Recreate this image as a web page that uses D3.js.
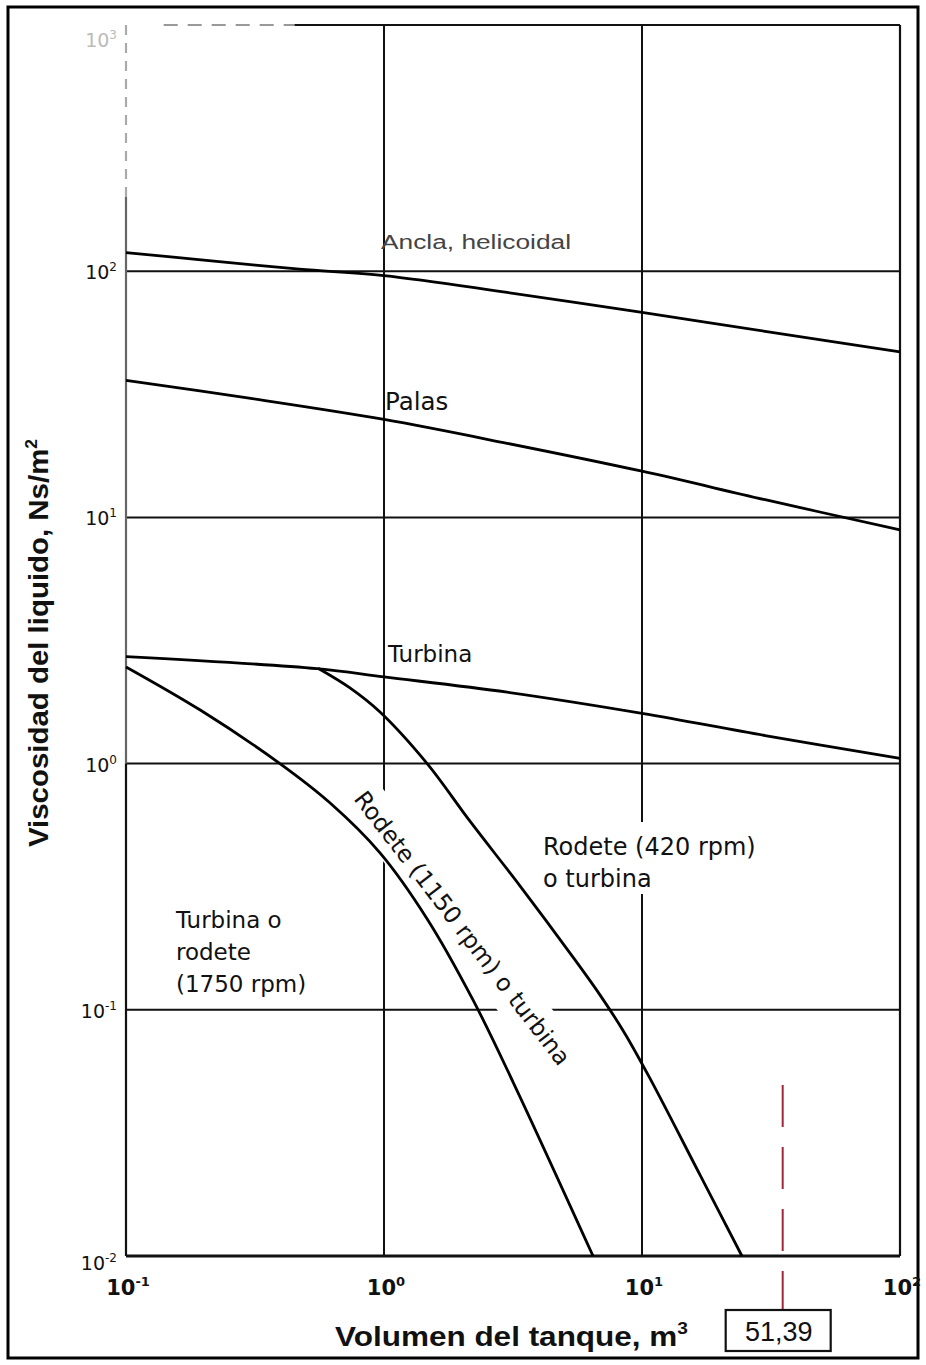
<!DOCTYPE html>
<html>
<head>
<meta charset="utf-8">
<script src="https://cdnjs.cloudflare.com/ajax/libs/d3/7.8.5/d3.min.js"></script>
<style>
  body { margin: 0; background: #fff; }
  svg { display: block; font-family: "Liberation Sans", Arial, sans-serif; }
</style>
</head>
<body>
<div id="chart"></div>
<script>
// axis ticks (powers of ten) and their exponents
var volumeTicks = [0.1, 1, 10, 100];
var volumeExp = ["-1", "0", "1", "2"];
var viscTicks = [0.01, 0.1, 1, 10, 100, 1000];
var viscExp = ["-2", "-1", "0", "1", "2", "3"];

// curves: [volume m3, viscosity Ns/m2]
var ancla = [[0.1, 119], [0.2, 111], [0.47, 102], [1, 96], [3, 82], [10, 68], [30, 57], [100, 47]];
var palas = [[0.1, 36], [0.3, 30.5], [1, 25], [3, 20], [10, 15.4], [30, 11.8], [100, 8.9]];
var turbina = [[0.1, 2.72], [0.55, 2.43], [1, 2.25], [3, 1.95], [10, 1.6], [30, 1.3], [100, 1.05]];
var rodete1750 = [[0.1, 2.47], [0.194, 1.65], [0.395, 1.0], [0.62, 0.69], [0.965, 0.434],
  [1.47, 0.234], [2.21, 0.11], [3.16, 0.051], [6.46, 0.01]];
var rodete420 = [[0.555, 2.44], [0.738, 2.03], [0.965, 1.62], [1.47, 1.0], [2.15, 0.585],
  [3.37, 0.318], [5.26, 0.17], [6.87, 0.115], [8.59, 0.08], [10.7, 0.053], [16.8, 0.0213], [24.4, 0.01]];

// the marked tank volume
var markerVolume = 35.1;
var markerText = "51,39";

var width = 926, height = 1365;

var svg = d3.select("#chart").append("svg")
  .attr("width", width)
  .attr("height", height);

svg.append("rect").attr("width", width).attr("height", height).attr("fill", "#fff");

// outer frame
svg.append("rect")
  .attr("x", 8).attr("y", 7)
  .attr("width", 910).attr("height", 1351)
  .attr("fill", "none").attr("stroke", "#000").attr("stroke-width", 3);

var x = d3.scaleLog().domain([0.1, 100]).range([126, 900]);
var y = d3.scaleLog().domain([0.01, 1000]).range([1256, 25]);

var grid = svg.append("g").attr("stroke", "#111").attr("stroke-width", 2).attr("fill", "none");

// inner vertical grid lines
grid.selectAll(".vgrid")
  .data(volumeTicks.slice(1, -1))
  .enter().append("line")
  .attr("x1", function(d) { return x(d); })
  .attr("x2", function(d) { return x(d); })
  .attr("y1", y(1000)).attr("y2", y(0.01));

// horizontal grid lines
grid.selectAll(".hgrid")
  .data(viscTicks.slice(1, -1))
  .enter().append("line")
  .attr("x1", x(0.1)).attr("x2", x(100))
  .attr("y1", function(d) { return y(d); })
  .attr("y2", function(d) { return y(d); });

// top line: faint and broken at the left, as in the scan
grid.append("line")
  .attr("x1", x(0.14)).attr("x2", x(0.45))
  .attr("y1", y(1000)).attr("y2", y(1000))
  .attr("stroke", "#999").attr("stroke-dasharray", "14,10");
grid.append("line")
  .attr("x1", x(0.45)).attr("x2", x(100))
  .attr("y1", y(1000)).attr("y2", y(1000));

// white masks behind labels (the scan breaks grid lines there)
var masks = svg.append("g").attr("fill", "#fff");

var labels = svg.append("g")
  .attr("fill", "#111")
  .style("font-family", "'DejaVu Sans', sans-serif")
  .style("font-size", "23.5px");

function addLabel(lines, px, py, lh) {
  var t = labels.append("text").attr("x", px).attr("y", py);
  lines.forEach(function(s, i) {
    t.append("tspan").attr("x", px).attr("dy", i === 0 ? 0 : lh).text(s);
  });
  return t;
}

addLabel(["Ancla, helicoidal"], 381, 249, 0)
  .style("font-family", "'Liberation Sans', Arial, sans-serif")
  .style("font-size", "20px")
  .attr("fill", "#444")
  .attr("textLength", 190).attr("lengthAdjust", "spacingAndGlyphs");
addLabel(["Palas"], 385, 410, 0).style("font-size", "24.5px");
addLabel(["Turbina"], 388, 662, 0).style("font-size", "23px");
addLabel(["Turbina o", "rodete", "(1750 rpm)"], 176, 928, 32).style("font-size", "23px");

masks.append("rect").attr("x", 536).attr("y", 822).attr("width", 236).attr("height", 72);
addLabel(["Rodete (420 rpm)", "o turbina"], 543, 855, 32).style("font-size", "24px");

// rotated label along the 1150 rpm curve
var rot = "translate(353,799) rotate(52.5)";
labels.append("text")
  .attr("transform", rot)
  .attr("textLength", 338).attr("lengthAdjust", "spacingAndGlyphs")
  .text("Rodete (1150 rpm) o turbina");
masks.append("rect")
  .attr("transform", rot)
  .attr("x", -8).attr("y", -30)
  .attr("width", 350).attr("height", 44);

// frame of the plot (axes)
var frame = svg.append("g").attr("stroke", "#111").attr("stroke-width", 2.2).attr("fill", "none");
frame.append("line")
  .attr("x1", x(0.1)).attr("x2", x(0.1))
  .attr("y1", y(1000)).attr("y2", y(200))
  .attr("stroke", "#aaa").attr("stroke-dasharray", "10,8");
frame.append("line")
  .attr("x1", x(0.1)).attr("x2", x(0.1))
  .attr("y1", y(200)).attr("y2", y(1))
  .attr("stroke", "#666");
frame.append("line")
  .attr("x1", x(0.1)).attr("x2", x(0.1))
  .attr("y1", y(1)).attr("y2", y(0.01));
frame.append("line")
  .attr("x1", x(100)).attr("x2", x(100))
  .attr("y1", y(1000)).attr("y2", y(0.01));
frame.append("line")
  .attr("x1", x(0.1)).attr("x2", x(100))
  .attr("y1", y(0.01)).attr("y2", y(0.01))
  .attr("stroke-width", 3);

// curves
var line = d3.line()
  .x(function(d) { return x(d[0]); })
  .y(function(d) { return y(d[1]); })
  .curve(d3.curveCatmullRom.alpha(0.5));

svg.append("g")
  .selectAll("path")
  .data([ancla, palas, turbina, rodete1750, rodete420])
  .enter().append("path")
  .attr("d", line)
  .attr("fill", "none")
  .attr("stroke", "#000")
  .attr("stroke-width", 2.8);

// tick labels
var yLab = svg.append("g")
  .attr("text-anchor", "end")
  .style("font-family", "'DejaVu Sans', sans-serif");
yLab.selectAll("text")
  .data(viscTicks)
  .enter().append("text")
  .attr("x", 117)
  .attr("y", function(d, i) {
    if (i === 0) return y(d) + 14;
    if (i === viscTicks.length - 1) return y(d) + 22;
    return y(d) + 8;
  })
  .attr("fill", function(d, i) { return i === viscTicks.length - 1 ? "#bbb" : "#111"; })
  .style("font-size", "19px")
  .each(function(d, i) {
    var t = d3.select(this);
    t.append("tspan").text("10");
    t.append("tspan").attr("dy", -8).style("font-size", "12px").text(viscExp[i]);
  });

var xLab = svg.append("g")
  .attr("fill", "#111")
  .attr("text-anchor", "middle")
  .style("font-family", "'DejaVu Sans', sans-serif");
xLab.selectAll("text")
  .data(volumeTicks)
  .enter().append("text")
  .attr("x", function(d) { return x(d) + 2; })
  .attr("y", 1295)
  .style("font-size", "21px")
  .style("font-weight", "bold")
  .each(function(d, i) {
    var t = d3.select(this);
    t.append("tspan").text("10");
    t.append("tspan").attr("dy", -9).style("font-size", "13px").text(volumeExp[i]);
  });

// axis titles
var yTitle = svg.append("text")
  .attr("transform", "translate(48,643) rotate(-90)")
  .attr("text-anchor", "middle")
  .attr("textLength", 408).attr("lengthAdjust", "spacingAndGlyphs")
  .style("font-size", "27px")
  .style("font-weight", "bold")
  .attr("fill", "#111");
yTitle.append("tspan").text("Viscosidad del liquido, Ns/m");
yTitle.append("tspan").attr("dy", -11).style("font-size", "16px").text("2");

var xTitle = svg.append("text")
  .attr("x", 335).attr("y", 1346)
  .attr("textLength", 353).attr("lengthAdjust", "spacingAndGlyphs")
  .style("font-size", "28px")
  .style("font-weight", "bold")
  .attr("fill", "#111");
xTitle.append("tspan").text("Volumen del tanque, m");
xTitle.append("tspan").attr("dy", -12).style("font-size", "17px").text("3");

// marked volume: red dashed line down to the value box
svg.append("line")
  .attr("x1", x(markerVolume)).attr("x2", x(markerVolume))
  .attr("y1", 1085).attr("y2", 1310)
  .attr("stroke", "#a3273c")
  .attr("stroke-width", 2)
  .attr("stroke-dasharray", "42,20");

svg.append("rect")
  .attr("x", x(markerVolume) - 57).attr("y", 1310)
  .attr("width", 105).attr("height", 41)
  .attr("fill", "none").attr("stroke", "#111").attr("stroke-width", 2.2);

svg.append("text")
  .attr("x", x(markerVolume) - 4).attr("y", 1341)
  .attr("text-anchor", "middle")
  .style("font-size", "27px")
  .attr("fill", "#111")
  .text(markerText);
</script>
</body>
</html>
